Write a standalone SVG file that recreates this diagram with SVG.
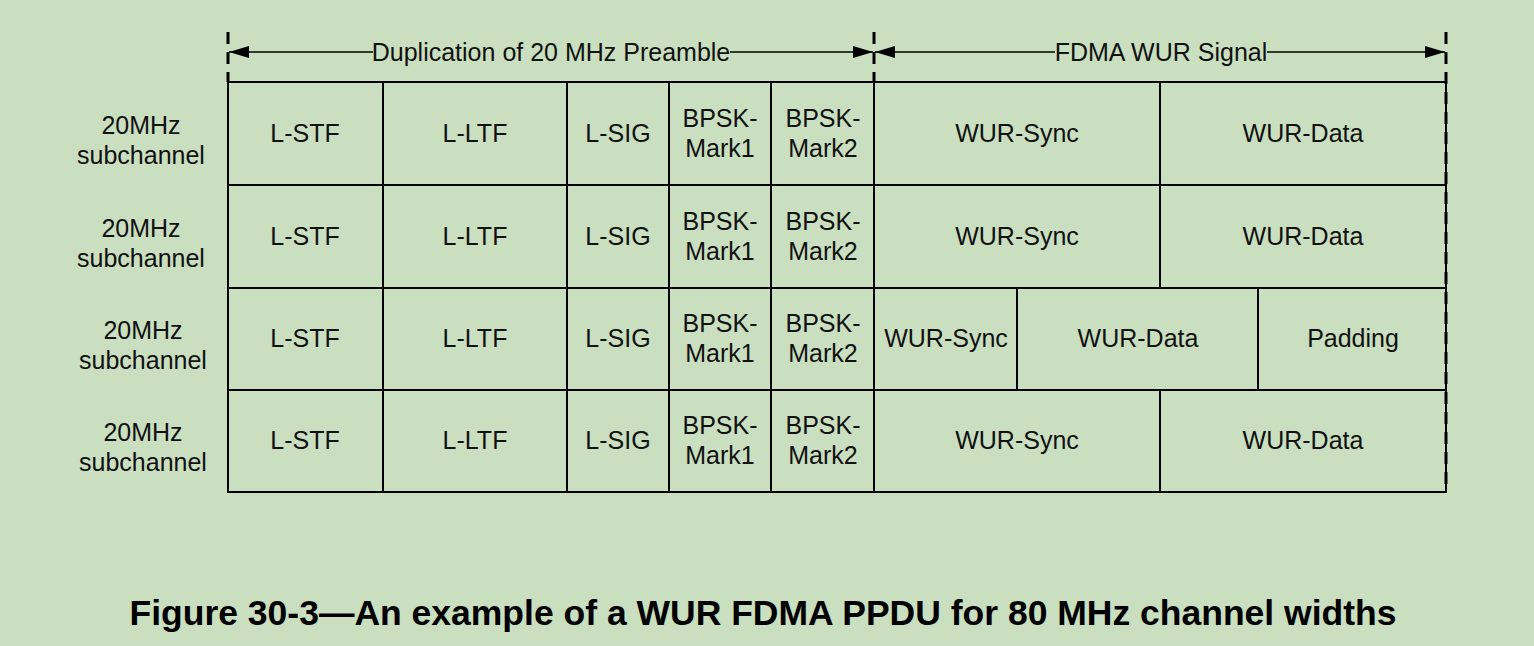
<svg xmlns="http://www.w3.org/2000/svg" width="1534" height="646" viewBox="0 0 1534 646">
  <style>
    .bg { fill: #c9dfc0; }
    .cell { fill: none; stroke: #000; stroke-width: 2; }
    .t { font-family: "Liberation Sans", Arial, sans-serif; font-size: 25px; fill: #111; text-anchor: middle; }
    .dash { stroke: #000; stroke-width: 3; stroke-dasharray: 12 8; fill: none; }
    .arrow { stroke: #000; stroke-width: 1.5; fill: none; }
    .cap { font-family: "Liberation Sans", Arial, sans-serif; font-size: 35.5px; font-weight: bold; fill: #000; text-anchor: middle; }
  </style>
  <defs>
    <marker id="ah" viewBox="0 0 20 12" refX="20" refY="6" markerWidth="20" markerHeight="12" markerUnits="userSpaceOnUse" orient="auto">
      <path d="M0,0 L20,6 L0,12 Z" fill="#000"/>
    </marker>
  </defs>
  <rect class="bg" x="0" y="0" width="1534" height="646"/>

  <!-- span markers and arrows -->
  <g id="connectors">
    <line class="dash" x1="228" y1="32" x2="228" y2="82"/>
    <line class="dash" x1="874" y1="32" x2="874" y2="82"/>
    <line class="dash" x1="1446" y1="32" x2="1446" y2="492"/>
    <line class="arrow" x1="373" y1="52" x2="229" y2="52" marker-end="url(#ah)"/>
    <line class="arrow" x1="730" y1="52" x2="873" y2="52" marker-end="url(#ah)"/>
    <line class="arrow" x1="1055" y1="52" x2="875" y2="52" marker-end="url(#ah)"/>
    <line class="arrow" x1="1267" y1="52" x2="1445" y2="52" marker-end="url(#ah)"/>
  </g>
  <g id="span-labels">
    <text class="t" x="551" y="61">Duplication of 20 MHz Preamble</text>
    <text class="t" x="1161" y="61">FDMA WUR Signal</text>
  </g>

  <!-- row labels -->
  <g id="row-labels">
    <text class="t" x="141" y="134">20MHz</text>
    <text class="t" x="141" y="164">subchannel</text>
    <text class="t" x="141" y="237">20MHz</text>
    <text class="t" x="141" y="267">subchannel</text>
    <text class="t" x="143" y="339">20MHz</text>
    <text class="t" x="143" y="369">subchannel</text>
    <text class="t" x="143" y="441">20MHz</text>
    <text class="t" x="143" y="471">subchannel</text>
  </g>

  <!-- row 1 -->
  <g id="row1">
    <rect class="cell" x="228" y="82" width="155" height="103"/>
    <rect class="cell" x="383" y="82" width="184" height="103"/>
    <rect class="cell" x="567" y="82" width="102" height="103"/>
    <rect class="cell" x="669" y="82" width="102" height="103"/>
    <rect class="cell" x="771" y="82" width="103" height="103"/>
    <rect class="cell" x="874" y="82" width="286" height="103"/>
    <rect class="cell" x="1160" y="82" width="286" height="103"/>
    <text class="t" x="305" y="142">L-STF</text>
    <text class="t" x="475" y="142">L-LTF</text>
    <text class="t" x="618" y="142">L-SIG</text>
    <text class="t" x="720" y="127">BPSK-</text>
    <text class="t" x="720" y="157">Mark1</text>
    <text class="t" x="823" y="127">BPSK-</text>
    <text class="t" x="823" y="157">Mark2</text>
    <text class="t" x="1017" y="142">WUR-Sync</text>
    <text class="t" x="1303" y="142">WUR-Data</text>
  </g>

  <!-- row 2 -->
  <g id="row2">
    <rect class="cell" x="228" y="185" width="155" height="103"/>
    <rect class="cell" x="383" y="185" width="184" height="103"/>
    <rect class="cell" x="567" y="185" width="102" height="103"/>
    <rect class="cell" x="669" y="185" width="102" height="103"/>
    <rect class="cell" x="771" y="185" width="103" height="103"/>
    <rect class="cell" x="874" y="185" width="286" height="103"/>
    <rect class="cell" x="1160" y="185" width="286" height="103"/>
    <text class="t" x="305" y="245">L-STF</text>
    <text class="t" x="475" y="245">L-LTF</text>
    <text class="t" x="618" y="245">L-SIG</text>
    <text class="t" x="720" y="230">BPSK-</text>
    <text class="t" x="720" y="260">Mark1</text>
    <text class="t" x="823" y="230">BPSK-</text>
    <text class="t" x="823" y="260">Mark2</text>
    <text class="t" x="1017" y="245">WUR-Sync</text>
    <text class="t" x="1303" y="245">WUR-Data</text>
  </g>

  <!-- row 3 -->
  <g id="row3">
    <rect class="cell" x="228" y="288" width="155" height="102"/>
    <rect class="cell" x="383" y="288" width="184" height="102"/>
    <rect class="cell" x="567" y="288" width="102" height="102"/>
    <rect class="cell" x="669" y="288" width="102" height="102"/>
    <rect class="cell" x="771" y="288" width="103" height="102"/>
    <rect class="cell" x="874" y="288" width="143" height="102"/>
    <rect class="cell" x="1017" y="288" width="241" height="102"/>
    <rect class="cell" x="1258" y="288" width="188" height="102"/>
    <text class="t" x="305" y="347">L-STF</text>
    <text class="t" x="475" y="347">L-LTF</text>
    <text class="t" x="618" y="347">L-SIG</text>
    <text class="t" x="720" y="332">BPSK-</text>
    <text class="t" x="720" y="362">Mark1</text>
    <text class="t" x="823" y="332">BPSK-</text>
    <text class="t" x="823" y="362">Mark2</text>
    <text class="t" x="946" y="347">WUR-Sync</text>
    <text class="t" x="1138" y="347">WUR-Data</text>
    <text class="t" x="1353" y="347">Padding</text>
  </g>

  <!-- row 4 -->
  <g id="row4">
    <rect class="cell" x="228" y="390" width="155" height="102"/>
    <rect class="cell" x="383" y="390" width="184" height="102"/>
    <rect class="cell" x="567" y="390" width="102" height="102"/>
    <rect class="cell" x="669" y="390" width="102" height="102"/>
    <rect class="cell" x="771" y="390" width="103" height="102"/>
    <rect class="cell" x="874" y="390" width="286" height="102"/>
    <rect class="cell" x="1160" y="390" width="286" height="102"/>
    <text class="t" x="305" y="449">L-STF</text>
    <text class="t" x="475" y="449">L-LTF</text>
    <text class="t" x="618" y="449">L-SIG</text>
    <text class="t" x="720" y="434">BPSK-</text>
    <text class="t" x="720" y="464">Mark1</text>
    <text class="t" x="823" y="434">BPSK-</text>
    <text class="t" x="823" y="464">Mark2</text>
    <text class="t" x="1017" y="449">WUR-Sync</text>
    <text class="t" x="1303" y="449">WUR-Data</text>
  </g>

  <text id="caption" class="cap" x="763" y="625">Figure 30-3—An example of a WUR FDMA PPDU for 80 MHz channel widths</text>
</svg>
